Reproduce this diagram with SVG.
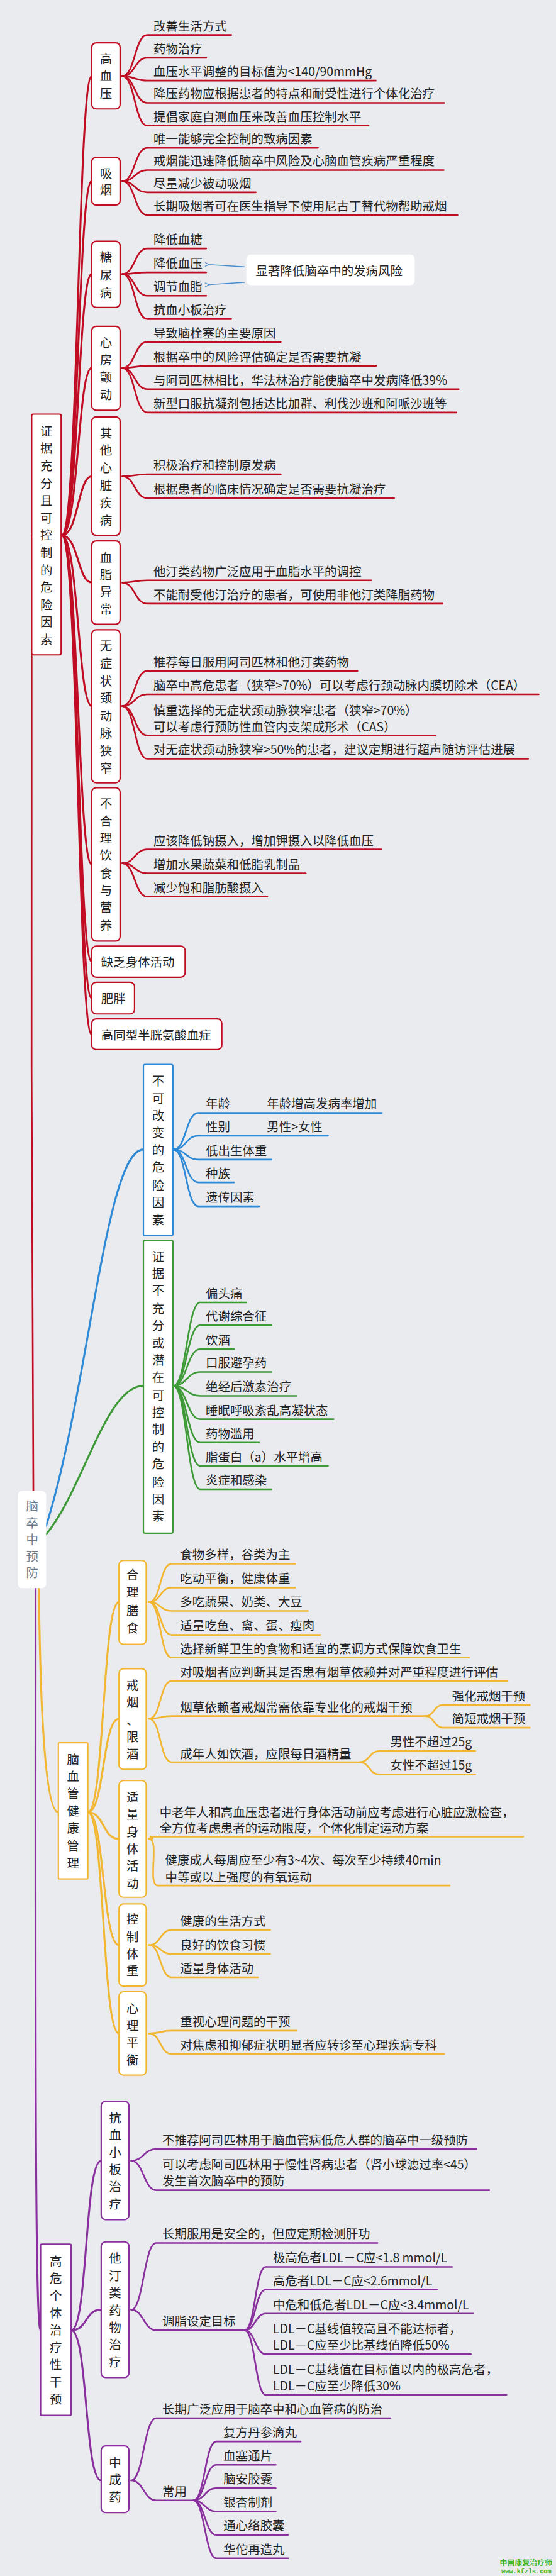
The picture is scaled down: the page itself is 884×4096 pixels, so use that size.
<svg xmlns="http://www.w3.org/2000/svg" width="884" height="4096" viewBox="0 0 884 4096">
<defs>
<style>
text{font-family:"Noto Sans CJK SC","Noto Sans",sans-serif;font-size:22px;fill:#222}
.c{text-anchor:middle}
.rt{fill:#6c7b8b}
.R,.B,.G,.O,.P{fill:none;stroke-width:3;stroke-linecap:round}
.R{stroke:#c00d24}.B{stroke:#2e8ad6}.G{stroke:#3d9a37}.O{stroke:#f2b632}.P{stroke:#8a2f9e}
.L{stroke-width:3.5}
.rb{fill:#fff;stroke:#c00d24;stroke-width:2.5}
.bb{fill:#fff;stroke:#2e8ad6;stroke-width:2.5}
.gb{fill:#fff;stroke:#3d9a37;stroke-width:2.5}
.ob{fill:#fff;stroke:#f2b632;stroke-width:2.5}
.pb{fill:#fff;stroke:#8a2f9e;stroke-width:2.5}
.ar{fill:none;stroke:#4a8ccc;stroke-width:1.6}
.wm{font-size:13.5px;fill:#3cb521;font-weight:bold}
.wm2{font-family:"Liberation Mono",monospace;font-size:11.5px;fill:#3cb521;font-weight:bold}
</style>
<marker id="ah" viewBox="0 0 10 10" refX="1" refY="5" markerWidth="9" markerHeight="9" orient="auto-start-reverse" markerUnits="userSpaceOnUse"><path d="M9 1L1 5L9 9" fill="none" stroke="#4a8ccc" stroke-width="1.6"/></marker>
</defs>
<rect width="884" height="4096" fill="#e9ebee"/>
<g transform="scale(0.8839)">
<g id="connectors">
<path class="R" d="M60 2682C58 2200 52 1000 57 962"/>
<g class="R L">
<path d="M111 963C141 963 140 137 165 137"/>
<path d="M111 963C141 963 140 326 165 326"/>
<path d="M111 963C141 963 140 493 165 493"/>
<path d="M111 963C141 963 140 662 165 662"/>
<path d="M111 963C141 963 140 857 165 857"/>
<path d="M111 963C141 963 140 1048 165 1048"/>
<path d="M111 963C141 963 140 1270 165 1270"/>
<path d="M111 963C141 963 140 1555 165 1555"/>
<path d="M111 963C141 963 140 1730 165 1730"/>
<path d="M111 963C141 963 140 1796 165 1796"/>
<path d="M111 963C141 963 140 1861 165 1861"/>
</g>
<g class="R">
<path d="M220 137C243 137 242 63 265 63H416"/>
<path d="M220 137C243 137 242 104 265 104H371"/>
<path d="M220 137C243 137 242 145 265 145H676"/>
<path d="M220 137C243 137 242 185 265 185H799"/>
<path d="M220 137C243 137 242 226 265 226H663"/>
<path d="M220 326C243 326 242 266 265 266H572"/>
<path d="M220 326C243 326 242 306 265 306H798"/>
<path d="M220 326C243 326 242 346 265 346H460"/>
<path d="M220 326C243 326 242 387 265 387H823"/>
<path d="M220 493C243 493 242 447 265 447H371"/>
<path d="M220 493C243 493 242 490 265 490H371"/>
<path d="M220 493C243 493 242 532 265 532H371"/>
<path d="M220 493C243 493 242 574 265 574H416"/>
<path d="M220 662C243 662 242 615 265 615H505"/>
<path d="M220 662C243 662 242 658 265 658H677"/>
<path d="M220 662C243 662 242 700 265 700H825"/>
<path d="M220 662C243 662 242 742 265 742H821"/>
<path d="M220 857C243 857 242 853 265 853H505"/>
<path d="M220 857C243 857 242 896 265 896H709"/>
<path d="M220 1048C243 1048 242 1044 265 1044H668"/>
<path d="M220 1048C243 1048 242 1086 265 1086H796"/>
<path d="M220 1270C243 1270 242 1207 265 1207H643"/>
<path d="M220 1270C243 1270 242 1249 265 1249H969"/>
<path d="M220 1270C243 1270 242 1323 265 1323H783"/>
<path d="M220 1270C243 1270 242 1365 265 1365H950"/>
<path d="M220 1553C243 1553 242 1528 265 1528H686"/>
<path d="M220 1553C243 1553 242 1571 265 1571H550"/>
<path d="M220 1553C243 1553 242 1613 265 1613H481"/>
</g>
<path class="ar" d="M440 480L376 476" marker-end="url(#ah)"/>
<path class="ar" d="M440 508L376 512" marker-end="url(#ah)"/>
<path class="B L" d="M83 2745C160 2500 190 2068 258 2068"/>
<g class="B">
<path d="M312 2068C335 2068 334 2002 357 2002H687"/>
<path d="M312 2068C335 2068 334 2043 357 2043H590"/>
<path d="M312 2068C335 2068 334 2086 357 2086H488"/>
<path d="M312 2068C335 2068 334 2127 357 2127H421"/>
<path d="M312 2068C335 2068 334 2170 357 2170H466"/>
</g>
<path class="G L" d="M83 2760C150 2680 190 2493 258 2493"/>
<g class="G">
<path d="M312 2493C335 2493 337 2343 360 2343H443"/>
<path d="M312 2493C335 2493 337 2384 360 2384H488"/>
<path d="M312 2493C335 2493 337 2427 360 2427H421"/>
<path d="M312 2493C335 2493 337 2468 360 2468H488"/>
<path d="M312 2493C335 2493 337 2511 360 2511H533"/>
<path d="M312 2493C335 2493 337 2553 360 2553H600"/>
<path d="M312 2493C335 2493 337 2595 360 2595H466"/>
<path d="M312 2493C335 2493 337 2637 360 2637H590"/>
<path d="M312 2493C335 2493 337 2679 360 2679H488"/>
</g>
<path class="O L" d="M70 2857C72 3050 80 3260 105 3260"/>
<g class="O L">
<path d="M158 3260C188 3260 184 2882 214 2882"/>
<path d="M158 3260C188 3260 184 3092 214 3092"/>
<path d="M158 3260C188 3260 184 3308 214 3308"/>
<path d="M158 3260C188 3260 184 3499 214 3499"/>
<path d="M158 3260C188 3260 184 3658 214 3658"/>
</g>
<g class="O">
<path d="M268 2882C290 2882 287 2813 309 2813H531"/>
<path d="M268 2882C290 2882 287 2856 309 2856H531"/>
<path d="M268 2882C290 2882 287 2898 309 2898H554"/>
<path d="M268 2882C290 2882 287 2941 309 2941H576"/>
<path d="M268 2882C290 2882 287 2982 309 2982H844"/>
<path d="M268 3092C290 3092 287 3024 309 3024H913"/>
<path d="M268 3092C290 3092 287 3087 309 3087H765"/>
<path d="M765 3087C781 3087 781 3067 797 3067H953"/>
<path d="M765 3087C781 3087 781 3108 797 3108H953"/>
<path d="M268 3092C290 3092 287 3170 309 3170H647"/>
<path d="M647 3170C665 3170 664 3150 682 3150H855"/>
<path d="M647 3170C665 3170 664 3192 682 3192H855"/>
<path d="M268 3308C285 3308 262 3304 274 3304H941"/>
<path d="M268 3308C288 3308 264 3392 284 3392H809"/>
<path d="M268 3499C290 3499 287 3472 309 3472H486"/>
<path d="M268 3499C290 3499 287 3515 309 3515H486"/>
<path d="M268 3499C290 3499 287 3557 309 3557H464"/>
<path d="M268 3658C290 3658 287 3653 309 3653H533"/>
<path d="M268 3658C290 3658 287 3695 309 3695H799"/>
</g>
<path class="P L" d="M64 2857C64 3500 62 4192 73 4192"/>
<g class="P L">
<path d="M128 4192C158 4192 152 3887 182 3887"/>
<path d="M128 4192C158 4192 152 4155 182 4155"/>
<path d="M128 4192C158 4192 152 4462 182 4462"/>
</g>
<g class="P">
<path d="M236 3887C258 3887 259 3866 281 3866H857"/>
<path d="M236 3887C258 3887 259 3940 281 3940H880"/>
<path d="M236 4155C258 4155 259 4035 281 4035H679"/>
<path d="M236 4155C258 4155 259 4192 281 4192H440"/>
<path d="M440 4192C459 4192 459 4078 478 4078H813"/>
<path d="M440 4192C459 4192 459 4119 478 4119H786"/>
<path d="M440 4192C459 4192 459 4162 478 4162H851"/>
<path d="M440 4192C459 4192 459 4235 478 4235H847"/>
<path d="M440 4192C459 4192 459 4308 478 4308H911"/>
<path d="M236 4462C258 4462 259 4350 281 4350H702"/>
<path d="M236 4462C258 4462 259 4498 281 4498H348"/>
<path d="M348 4498C368 4498 369 4392 389 4392H541"/>
<path d="M348 4498C368 4498 369 4434 389 4434H496"/>
<path d="M348 4498C368 4498 369 4476 389 4476H496"/>
<path d="M348 4498C368 4498 369 4518 389 4518H496"/>
<path d="M348 4498C368 4498 369 4560 389 4560H518"/>
<path d="M348 4498C368 4498 369 4602 389 4602H518"/>
</g>
</g>

<g id="root">
<rect x="32" y="2682" width="51" height="175" rx="8" fill="#fff"/>
<text class="c rt"><tspan x="58" y="2718">脑</tspan><tspan x="58" y="2748">卒</tspan><tspan x="58" y="2778">中</tspan><tspan x="58" y="2808">预</tspan><tspan x="58" y="2838">防</tspan></text>
</g>

<g id="n-evidence">
<rect class="rb" x="57" y="745" width="53" height="433" rx="3"/>
<text class="c"><tspan x="83.5" y="784">证</tspan><tspan x="83.5" y="815">据</tspan><tspan x="83.5" y="846">充</tspan><tspan x="83.5" y="878">分</tspan><tspan x="83.5" y="909">且</tspan><tspan x="83.5" y="940">可</tspan><tspan x="83.5" y="971">控</tspan><tspan x="83.5" y="1002">制</tspan><tspan x="83.5" y="1034">的</tspan><tspan x="83.5" y="1065">危</tspan><tspan x="83.5" y="1096">险</tspan><tspan x="83.5" y="1127">因</tspan><tspan x="83.5" y="1158">素</tspan></text>
</g>

<g id="n-hbp">
<rect class="rb" x="165" y="77" width="51" height="119" rx="8"/>
<text class="c"><tspan x="190.5" y="114">高</tspan><tspan x="190.5" y="145">血</tspan><tspan x="190.5" y="176">压</tspan></text>
<text x="276" y="55">改善生活方式</text>
<text x="276" y="96">药物治疗</text>
<text x="276" y="137">血压水平调整的目标值为&lt;140/90mmHg</text>
<text x="276" y="177">降压药物应根据患者的特点和耐受性进行个体化治疗</text>
<text x="276" y="218">提倡家庭自测血压来改善血压控制水平</text>
</g>

<g id="n-smoke">
<rect class="rb" x="165" y="283" width="51" height="86" rx="8"/>
<text class="c"><tspan x="190.5" y="320">吸</tspan><tspan x="190.5" y="350">烟</tspan></text>
<text x="276" y="258">唯一能够完全控制的致病因素</text>
<text x="276" y="298">戒烟能迅速降低脑卒中风险及心脑血管疾病严重程度</text>
<text x="276" y="338">尽量减少被动吸烟</text>
<text x="276" y="379">长期吸烟者可在医生指导下使用尼古丁替代物帮助戒烟</text>
</g>

<g id="n-dm">
<rect class="rb" x="165" y="434" width="51" height="119" rx="8"/>
<text class="c"><tspan x="190.5" y="471">糖</tspan><tspan x="190.5" y="503">尿</tspan><tspan x="190.5" y="535">病</tspan></text>
<text x="276" y="439">降低血糖</text>
<text x="276" y="482">降低血压</text>
<text x="276" y="524">调节血脂</text>
<text x="276" y="566">抗血小板治疗</text>
</g>

<g id="n-callout">
<rect x="443" y="458" width="303" height="55" rx="8" fill="#fff"/>
<text x="460" y="495">显著降低脑卒中的发病风险</text>
</g>

<g id="n-af">
<rect class="rb" x="165" y="587" width="51" height="151" rx="8"/>
<text class="c"><tspan x="190.5" y="625">心</tspan><tspan x="190.5" y="656">房</tspan><tspan x="190.5" y="687">颤</tspan><tspan x="190.5" y="718">动</tspan></text>
<text x="276" y="607">导致脑栓塞的主要原因</text>
<text x="276" y="650">根据卒中的风险评估确定是否需要抗凝</text>
<text x="276" y="692">与阿司匹林相比，华法林治疗能使脑卒中发病降低39%</text>
<text x="276" y="734">新型口服抗凝剂包括达比加群、利伐沙班和阿哌沙班等</text>
</g>

<g id="n-heart">
<rect class="rb" x="165" y="750" width="51" height="213" rx="8"/>
<text class="c"><tspan x="190.5" y="787">其</tspan><tspan x="190.5" y="818">他</tspan><tspan x="190.5" y="850">心</tspan><tspan x="190.5" y="881">脏</tspan><tspan x="190.5" y="913">疾</tspan><tspan x="190.5" y="945">病</tspan></text>
<text x="276" y="845">积极治疗和控制原发病</text>
<text x="276" y="888">根据患者的临床情况确定是否需要抗凝治疗</text>
</g>

<g id="n-lipid">
<rect class="rb" x="165" y="973" width="51" height="150" rx="8"/>
<text class="c"><tspan x="190.5" y="1011">血</tspan><tspan x="190.5" y="1042">脂</tspan><tspan x="190.5" y="1073">异</tspan><tspan x="190.5" y="1104">常</tspan></text>
<text x="276" y="1036">他汀类药物广泛应用于血脂水平的调控</text>
<text x="276" y="1078">不能耐受他汀治疗的患者，可使用非他汀类降脂药物</text>
</g>

<g id="n-carotid">
<rect class="rb" x="165" y="1133" width="51" height="275" rx="8"/>
<text class="c"><tspan x="190.5" y="1170">无</tspan><tspan x="190.5" y="1201">症</tspan><tspan x="190.5" y="1233">状</tspan><tspan x="190.5" y="1264">颈</tspan><tspan x="190.5" y="1296">动</tspan><tspan x="190.5" y="1327">脉</tspan><tspan x="190.5" y="1359">狭</tspan><tspan x="190.5" y="1390">窄</tspan></text>
<text x="276" y="1199">推荐每日服用阿司匹林和他汀类药物</text>
<text x="276" y="1241">脑卒中高危患者（狭窄&gt;70%）可以考虑行颈动脉内膜切除术（CEA）</text>
<text x="276" y="1286">慎重选择的无症状颈动脉狭窄患者（狭窄&gt;70%）</text>
<text x="276" y="1316">可以考虑行预防性血管内支架成形术（CAS）</text>
<text x="276" y="1357">对无症状颈动脉狭窄&gt;50%的患者，建议定期进行超声随访评估进展</text>
</g>

<g id="n-diet">
<rect class="rb" x="165" y="1417" width="51" height="276" rx="8"/>
<text class="c"><tspan x="190.5" y="1454">不</tspan><tspan x="190.5" y="1485">合</tspan><tspan x="190.5" y="1516">理</tspan><tspan x="190.5" y="1547">饮</tspan><tspan x="190.5" y="1579">食</tspan><tspan x="190.5" y="1610">与</tspan><tspan x="190.5" y="1641">营</tspan><tspan x="190.5" y="1673">养</tspan></text>
<text x="276" y="1520">应该降低钠摄入，增加钾摄入以降低血压</text>
<text x="276" y="1563">增加水果蔬菜和低脂乳制品</text>
<text x="276" y="1605">减少饱和脂肪酸摄入</text>
</g>

<g id="n-inactive">
<rect class="rb" x="165" y="1702" width="168" height="56" rx="8"/>
<text x="182" y="1739">缺乏身体活动</text>
</g>
<g id="n-obesity">
<rect class="rb" x="165" y="1767" width="77" height="57" rx="8"/>
<text x="182" y="1804">肥胖</text>
</g>
<g id="n-hcy">
<rect class="rb" x="165" y="1833" width="234" height="55" rx="8"/>
<text x="182" y="1870">高同型半胱氨酸血症</text>
</g>

<g id="n-fixed">
<rect class="bb" x="258" y="1915" width="53" height="308" rx="3"/>
<text class="c"><tspan x="284.5" y="1953">不</tspan><tspan x="284.5" y="1984">可</tspan><tspan x="284.5" y="2015">改</tspan><tspan x="284.5" y="2046">变</tspan><tspan x="284.5" y="2077">的</tspan><tspan x="284.5" y="2108">危</tspan><tspan x="284.5" y="2140">险</tspan><tspan x="284.5" y="2171">因</tspan><tspan x="284.5" y="2203">素</tspan></text>
<text x="370" y="1994">年龄</text><text x="480" y="1994">年龄增高发病率增加</text>
<text x="370" y="2035">性别</text><text x="480" y="2035">男性&gt;女性</text>
<text x="370" y="2078">低出生体重</text>
<text x="370" y="2119">种族</text>
<text x="370" y="2162">遗传因素</text>
</g>

<g id="n-uncertain">
<rect class="gb" x="258" y="2231" width="53" height="527" rx="3"/>
<text class="c"><tspan x="284.5" y="2268">证</tspan><tspan x="284.5" y="2299">据</tspan><tspan x="284.5" y="2330">不</tspan><tspan x="284.5" y="2362">充</tspan><tspan x="284.5" y="2393">分</tspan><tspan x="284.5" y="2424">或</tspan><tspan x="284.5" y="2455">潜</tspan><tspan x="284.5" y="2486">在</tspan><tspan x="284.5" y="2518">可</tspan><tspan x="284.5" y="2549">控</tspan><tspan x="284.5" y="2580">制</tspan><tspan x="284.5" y="2611">的</tspan><tspan x="284.5" y="2642">危</tspan><tspan x="284.5" y="2674">险</tspan><tspan x="284.5" y="2705">因</tspan><tspan x="284.5" y="2736">素</tspan></text>
<text x="370" y="2335">偏头痛</text>
<text x="370" y="2376">代谢综合征</text>
<text x="370" y="2419">饮酒</text>
<text x="370" y="2460">口服避孕药</text>
<text x="370" y="2503">绝经后激素治疗</text>
<text x="370" y="2545">睡眠呼吸紊乱高凝状态</text>
<text x="370" y="2587">药物滥用</text>
<text x="370" y="2629">脂蛋白（a）水平增高</text>
<text x="370" y="2671">炎症和感染</text>
</g>

<g id="n-manage">
<rect class="ob" x="105" y="3135" width="53" height="245" rx="2"/>
<text class="c"><tspan x="131.5" y="3173">脑</tspan><tspan x="131.5" y="3204">血</tspan><tspan x="131.5" y="3235">管</tspan><tspan x="131.5" y="3266">健</tspan><tspan x="131.5" y="3297">康</tspan><tspan x="131.5" y="3328">管</tspan><tspan x="131.5" y="3360">理</tspan></text>
</g>

<g id="n-meal">
<rect class="ob" x="214" y="2807" width="49" height="151" rx="8"/>
<text class="c"><tspan x="238.5" y="2841">合</tspan><tspan x="238.5" y="2873">理</tspan><tspan x="238.5" y="2905">膳</tspan><tspan x="238.5" y="2937">食</tspan></text>
<text x="324" y="2805">食物多样，谷类为主</text>
<text x="324" y="2848">吃动平衡，健康体重</text>
<text x="324" y="2890">多吃蔬果、奶类、大豆</text>
<text x="324" y="2933">适量吃鱼、禽、蛋、瘦肉</text>
<text x="324" y="2974">选择新鲜卫生的食物和适宜的烹调方式保障饮食卫生</text>
</g>

<g id="n-quit">
<rect class="ob" x="214" y="3002" width="49" height="181" rx="8"/>
<text class="c"><tspan x="238.5" y="3040">戒</tspan><tspan x="238.5" y="3070">烟</tspan><tspan x="238.5" y="3103">、</tspan><tspan x="238.5" y="3133">限</tspan><tspan x="238.5" y="3163">酒</tspan></text>
<text x="324" y="3016">对吸烟者应判断其是否患有烟草依赖并对严重程度进行评估</text>
<text x="324" y="3080">烟草依赖者戒烟常需依靠专业化的戒烟干预</text>
<text x="813" y="3059">强化戒烟干预</text>
<text x="813" y="3100">简短戒烟干预</text>
<text x="324" y="3163">成年人如饮酒，应限每日酒精量</text>
<text x="702" y="3142">男性不超过25g</text>
<text x="702" y="3184">女性不超过15g</text>
</g>

<g id="n-exercise">
<rect class="ob" x="214" y="3203" width="49" height="210" rx="8"/>
<text class="c"><tspan x="238.5" y="3241">适</tspan><tspan x="238.5" y="3272">量</tspan><tspan x="238.5" y="3303">身</tspan><tspan x="238.5" y="3334">体</tspan><tspan x="238.5" y="3365">活</tspan><tspan x="238.5" y="3396">动</tspan></text>
<text x="287" y="3268">中老年人和高血压患者进行身体活动前应考虑进行心脏应激检查，</text>
<text x="287" y="3297">全方位考虑患者的运动限度，个体化制定运动方案</text>
<text x="297" y="3355">健康成人每周应至少有3~4次、每次至少持续40min</text>
<text x="297" y="3385">中等或以上强度的有氧运动</text>
</g>

<g id="n-weight">
<rect class="ob" x="214" y="3425" width="49" height="148" rx="8"/>
<text class="c"><tspan x="238.5" y="3461">控</tspan><tspan x="238.5" y="3492">制</tspan><tspan x="238.5" y="3523">体</tspan><tspan x="238.5" y="3554">重</tspan></text>
<text x="324" y="3464">健康的生活方式</text>
<text x="324" y="3507">良好的饮食习惯</text>
<text x="324" y="3549">适量身体活动</text>
</g>

<g id="n-mind">
<rect class="ob" x="214" y="3583" width="49" height="150" rx="8"/>
<text class="c"><tspan x="238.5" y="3621">心</tspan><tspan x="238.5" y="3652">理</tspan><tspan x="238.5" y="3683">平</tspan><tspan x="238.5" y="3714">衡</tspan></text>
<text x="324" y="3645">重视心理问题的干预</text>
<text x="324" y="3687">对焦虑和抑郁症状明显者应转诊至心理疾病专科</text>
</g>

<g id="n-highrisk">
<rect class="pb" x="73" y="4037" width="55" height="308" rx="2"/>
<text class="c"><tspan x="100.5" y="4076">高</tspan><tspan x="100.5" y="4107">危</tspan><tspan x="100.5" y="4138">个</tspan><tspan x="100.5" y="4169">体</tspan><tspan x="100.5" y="4200">治</tspan><tspan x="100.5" y="4231">疗</tspan><tspan x="100.5" y="4262">性</tspan><tspan x="100.5" y="4293">干</tspan><tspan x="100.5" y="4324">预</tspan></text>
</g>

<g id="n-antiplatelet">
<rect class="pb" x="182" y="3780" width="50" height="213" rx="8"/>
<text class="c"><tspan x="207" y="3818">抗</tspan><tspan x="207" y="3849">血</tspan><tspan x="207" y="3880">小</tspan><tspan x="207" y="3911">板</tspan><tspan x="207" y="3942">治</tspan><tspan x="207" y="3973">疗</tspan></text>
<text x="292" y="3858">不推荐阿司匹林用于脑血管病低危人群的脑卒中一级预防</text>
<text x="292" y="3902">可以考虑阿司匹林用于慢性肾病患者（肾小球滤过率&lt;45）</text>
<text x="292" y="3932">发生首次脑卒中的预防</text>
</g>

<g id="n-statin">
<rect class="pb" x="182" y="4033" width="50" height="244" rx="8"/>
<text class="c"><tspan x="207" y="4071">他</tspan><tspan x="207" y="4102">汀</tspan><tspan x="207" y="4133">类</tspan><tspan x="207" y="4164">药</tspan><tspan x="207" y="4195">物</tspan><tspan x="207" y="4226">治</tspan><tspan x="207" y="4257">疗</tspan></text>
<text x="292" y="4027">长期服用是安全的，但应定期检测肝功</text>
<text x="292" y="4184">调脂设定目标</text>
<text x="491" y="4070">极高危者LDL－C应&lt;1.8 mmol/L</text>
<text x="491" y="4111">高危者LDL－C应&lt;2.6mmol/L</text>
<text x="491" y="4154">中危和低危者LDL－C应&lt;3.4mmol/L</text>
<text x="491" y="4197">LDL－C基线值较高且不能达标者，</text>
<text x="491" y="4227">LDL－C应至少比基线值降低50%</text>
<text x="491" y="4271">LDL－C基线值在目标值以内的极高危者，</text>
<text x="491" y="4300">LDL－C应至少降低30%</text>
</g>

<g id="n-tcm">
<rect class="pb" x="182" y="4400" width="50" height="120" rx="8"/>
<text class="c"><tspan x="207" y="4438">中</tspan><tspan x="207" y="4469">成</tspan><tspan x="207" y="4500">药</tspan></text>
<text x="292" y="4342">长期广泛应用于脑卒中和心血管病的防治</text>
<text x="292" y="4490">常用</text>
<text x="402" y="4384">复方丹参滴丸</text>
<text x="402" y="4426">血塞通片</text>
<text x="402" y="4468">脑安胶囊</text>
<text x="402" y="4510">银杏制剂</text>
<text x="402" y="4552">通心络胶囊</text>
<text x="402" y="4594">华佗再造丸</text>
</g>

<g id="watermark">
<text class="wm" x="899" y="4615">中国康复治疗师</text>
<text class="wm2" x="902" y="4629">www.kfzls.com</text>
</g>
</g>
</svg>
